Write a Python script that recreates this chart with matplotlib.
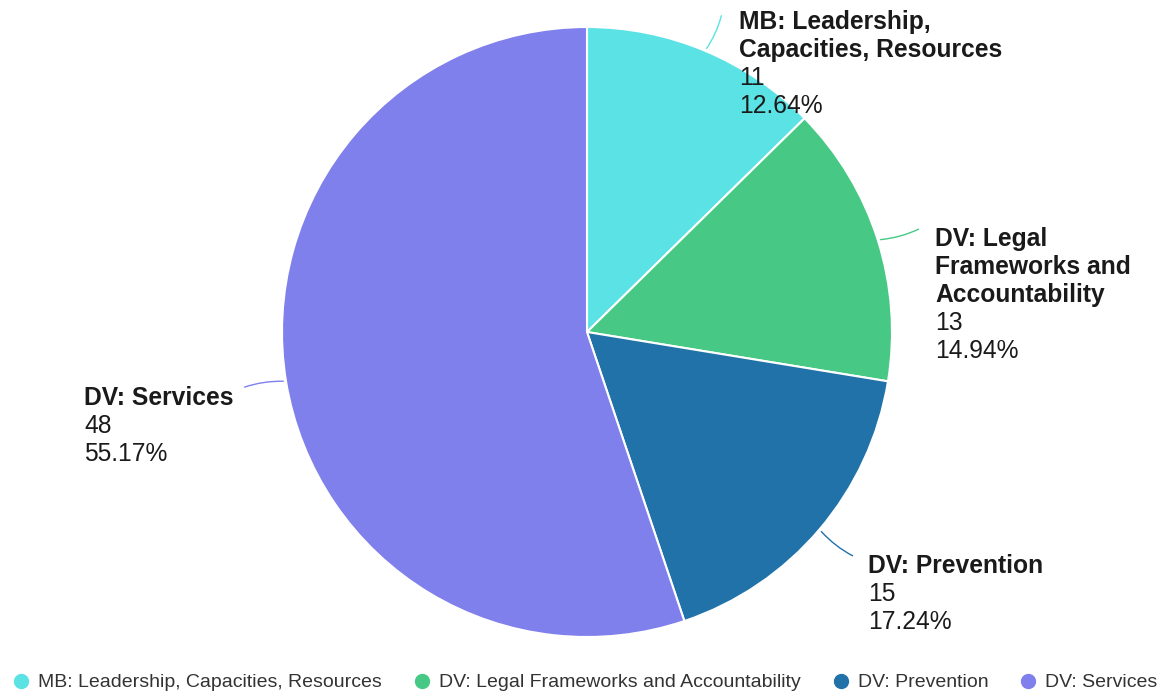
import numpy as np
import matplotlib.pyplot as plt
from matplotlib.lines import Line2D

plt.rcParams['font.family'] = ['Liberation Sans', 'DejaVu Sans']

# data
categories = ['MB: Leadership, Capacities, Resources',
              'DV: Legal Frameworks and Accountability',
              'DV: Prevention',
              'DV: Services']
label_names = [['MB: Leadership,', 'Capacities, Resources'],
               ['DV: Legal', 'Frameworks and', 'Accountability'],
               ['DV: Prevention'],
               ['DV: Services']]
counts = [11, 13, 15, 48]
colors = ['#5ae2e5', '#47c985', '#2272aa', '#7f80ec']

W, H = 1169, 695
fig = plt.figure(figsize=(W / 100, H / 100), dpi=100)
ax = fig.add_axes([0, 0, 1, 1])

cx, cy, r = 587, H - 332, 305
wedges, _ = ax.pie(counts, colors=colors, startangle=90, counterclock=False,
                   center=(cx, cy), radius=r, frame=True,
                   wedgeprops=dict(edgecolor='white', linewidth=1.5))
ax.set_xlim(0, W)
ax.set_ylim(0, H)
ax.set_aspect('equal')
ax.axis('off')

total = sum(counts)
# label x and first-line baseline (px from top), leader end point
label_pos = [(739, 29), (935, 246), (868, 573), (84, 405)]
leader_end = [(722, 13), (921, 228), (855, 557), (242, 388)]
step = 28
for i, w in enumerate(wedges):
    ang = np.deg2rad((w.theta1 + w.theta2) / 2)
    x0 = cx + r * np.cos(ang)
    y0 = cy + r * np.sin(ang)
    ex, ey = leader_end[i]
    ax.annotate('', xy=(ex, H - ey), xytext=(x0, y0),
                arrowprops=dict(arrowstyle='-', color=colors[i], lw=1,
                                connectionstyle='arc3,rad=0.1'))
    lx, ly = label_pos[i]
    pct = counts[i] / total * 100
    lines = [(s, 'bold') for s in label_names[i]] + \
            [(str(counts[i]), 'normal'), (f'{pct:.2f}%', 'normal')]
    for k, (s, fw) in enumerate(lines):
        ax.text(lx, H - ly - k * step, s, fontsize=17.7, fontweight=fw,
                color='#1a1a1a', ha='left', va='baseline')

handles = [Line2D([], [], marker='o', linestyle='', markersize=10,
                  markerfacecolor=c, markeredgecolor=c) for c in colors]
fig.legend(handles, categories, loc='lower center', bbox_to_anchor=(0.5, -0.02),
           ncol=4, frameon=False, fontsize=14, handlelength=1.0,
           handletextpad=0.38, columnspacing=1.55, labelcolor='#333333')

fig.savefig('out.png', dpi=100)
